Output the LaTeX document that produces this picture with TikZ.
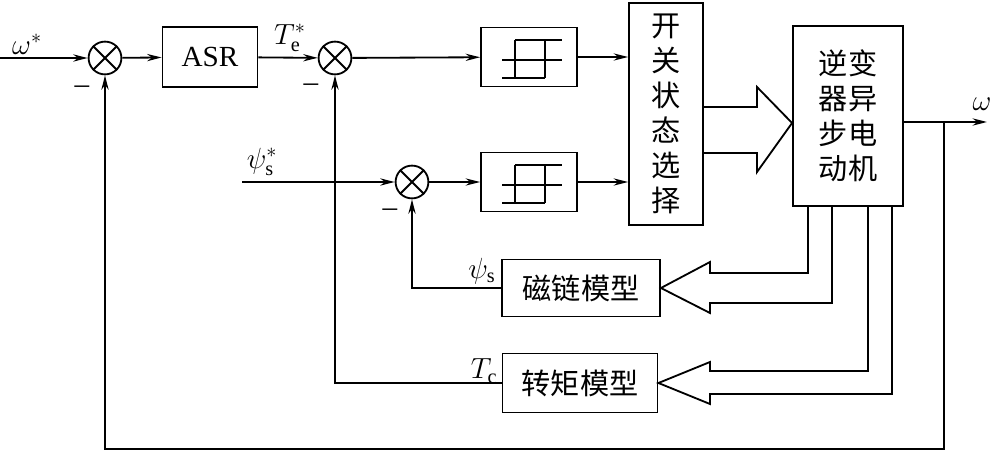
\documentclass[tikz,border=0pt]{standalone}
\usepackage{fontspec}
\setmainfont{Liberation Serif}
\newfontfamily\cjk{Noto Sans CJK SC}
\usetikzlibrary{arrows.meta}

\begin{document}
\begin{tikzpicture}[x=0.025cm,y=-0.025cm,line width=1.3pt,
 every node/.style={font=\huge},
 >={Stealth[length=3.6mm,width=1.8mm]},
 n/.style={draw,inner sep=0pt,align=center},
 zh/.style={n,font=\huge\cjk},
 sum/.style={draw,circle,minimum size=0.82cm,inner sep=0pt}]
\useasboundingbox (0,0) rectangle (995,453);
\node[sum] (s1) at (105,58) {};
\node[n,minimum width=2.375cm,minimum height=1.5cm] (asr) at (210,57) {ASR};
\node[sum] (s2) at (335,58) {};
\node[n,minimum width=2.4cm,minimum height=1.475cm] (h1) at (529,57) {};
\node[sum] (s3) at (412,182) {};
\node[n,minimum width=2.4cm,minimum height=1.475cm] (h2) at (529,182) {};
\node[zh,minimum width=1.85cm,minimum height=5.55cm] (sel) at (666,114) {开\\关\\状\\态\\选\\择};
\node[zh,minimum width=2.75cm,minimum height=4.5cm] (mot) at (848,116) {逆变\\器异\\步电\\动机};
\node[zh,minimum width=3.95cm,minimum height=1.425cm] (flux) at (581,288) {磁链模型};
\node[zh,minimum width=3.875cm,minimum height=1.475cm] (torq) at (580,383) {转矩模型};
\node (wref) at (27,44) {$\omega^{*}$};
\node (teref) at (290,38) {$T_{\mathrm{e}}^{*}$};
\node (psiref) at (262,162) {$\psi_{\mathrm{s}}^{*}$};
\node (psis) at (482,271) {$\psi_{\mathrm{s}}$};
\node (tc) at (484,371) {$T_{\mathrm{c}}$};
\node (wout) at (982,104) {$\omega$};
\node (m1) at (82,90) {--};
\node (m2) at (311,88) {--};
\node (m3) at (390,213) {--};
\foreach \s in {s1,s2,s3}
 \draw (\s.north west) -- (\s.south east) (\s.north east) -- (\s.south west);
\foreach \h in {h1,h2}
 \draw[shift={(\h.center)}] (-14,-17) -- (33,-17) (-27,3) -- (33,3) (-27,21) -- (16,21)
  (-14,-17) -- (-14,21) (16,-17) -- (16,21);
\coordinate (win) at (0,58);
\coordinate (psin) at (242,182);
\coordinate (wo) at (987,122);
\coordinate (fb) at (944,122);
\coordinate (fbb) at (944,449);
\draw[->] (win) -- (s1);
\draw[->] (s1) -- (asr);
\draw[->] (asr) -- (s2);
\draw[->] (s2) -- (h1);
\draw[->] (h1) -- (h1 -| sel.west);
\draw[->] (psin) -- (s3);
\draw[->] (s3) -- (h2);
\draw[->] (h2) -- (h2 -| sel.west);
\draw[->] (mot.east |- wo) -- (wo);
\draw[->] (fb) -- (fbb) -| (s1.south);
\draw[->] (flux.west) -| (s3.south);
\draw[->] (torq.west) -| (s2.south);
\draw (sel.east |- 0,107) -- (757,107) -- (757,87) -- (mot.west |- 0,123) -- (757,172) -- (757,153) -- (sel.east |- 0,153);
\draw (808,0 |- mot.south) |- (710,273) -- (710,262) -- (flux.east) -- (710,313) -- (710,303) -| (832,0 |- mot.south);
\draw (868,0 |- mot.south) |- (710,371) -- (710,362) -- (torq.east) -- (710,404) -- (710,394) -| (892,0 |- mot.south);
\end{tikzpicture}
\end{document}
